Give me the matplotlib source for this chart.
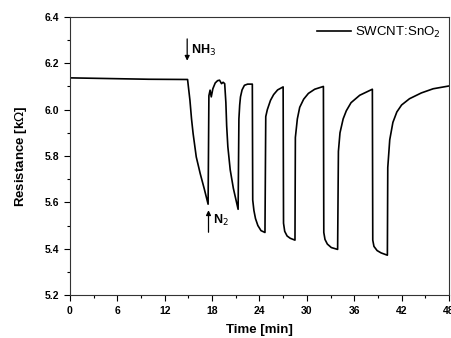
import numpy as np
import matplotlib
matplotlib.use('Agg')
from matplotlib import pyplot as plt
from matplotlib.ticker import MultipleLocator

# time [min] and resistance [kOhm]
time = [0.0, 5.0, 10.0, 14.9,
        15.0, 15.2, 15.4, 15.6, 16.0, 16.5, 17.0, 17.5,
        17.6, 17.75, 17.9, 18.1, 18.4, 18.7, 18.95, 19.2, 19.4, 19.6,
        19.75, 19.85, 20.0, 20.3, 20.7, 21.0, 21.3,
        21.4, 21.5, 21.6, 21.8, 22.1, 22.5, 23.1,
        23.15, 23.3, 23.5, 23.8, 24.2, 24.7,
        24.8, 25.0, 25.4, 25.8, 26.3, 27.0,
        27.05, 27.2, 27.5, 27.9, 28.5,
        28.55, 28.8, 29.1, 29.6, 30.2, 31.0, 32.1,
        32.15, 32.3, 32.6, 33.1, 33.9,
        34.0, 34.2, 34.6, 35.0, 35.6, 36.7, 38.3,
        38.35, 38.5, 38.9, 39.4, 40.2,
        40.25, 40.5, 40.9, 41.4, 42.0, 43.0, 44.5, 46.0, 48.0]
resistance = [6.137, 6.134, 6.131, 6.130,
              6.10, 6.04, 5.96, 5.897, 5.796, 5.724, 5.66, 5.592,
              6.06, 6.084, 6.055, 6.09, 6.115, 6.125, 6.127, 6.112, 6.118, 6.112,
              6.03, 5.93, 5.84, 5.74, 5.66, 5.615, 5.57,
              5.96, 6.02, 6.055, 6.085, 6.105, 6.11, 6.11,
              5.61, 5.565, 5.53, 5.50, 5.478, 5.47,
              5.97, 6.0, 6.04, 6.065, 6.085, 6.098,
              5.51, 5.475, 5.455, 5.445, 5.437,
              5.88, 5.96, 6.01, 6.045, 6.07, 6.088, 6.10,
              5.47, 5.44, 5.42, 5.405, 5.397,
              5.82, 5.90, 5.96, 5.995, 6.03, 6.062, 6.088,
              5.437, 5.41, 5.392, 5.382, 5.372,
              5.75, 5.87, 5.945, 5.99, 6.02, 6.047, 6.072, 6.09, 6.102]

plt.rcParams['font.family'] = ['Liberation Sans', 'DejaVu Sans']

fig = plt.figure(figsize=(4.51, 3.38), dpi=100)
ax = fig.add_axes([0.155, 0.127, 0.8405, 0.823])

ax.plot(time, resistance, color='black', lw=1.2, label='SWCNT:SnO$_2$')

ax.set_xlim(0, 48)
ax.set_ylim(5.2, 6.4)
ax.xaxis.set_major_locator(MultipleLocator(6))
ax.xaxis.set_minor_locator(MultipleLocator(3))
ax.yaxis.set_major_locator(MultipleLocator(0.2))
ax.yaxis.set_minor_locator(MultipleLocator(0.1))
ax.tick_params(which='both', direction='out', width=0.8, labelsize=7.5)
ax.tick_params(which='major', length=4.3)
ax.tick_params(which='minor', length=2)
ax.yaxis.set_major_formatter(matplotlib.ticker.FormatStrFormatter('%.1f'))
for lab in ax.get_xticklabels() + ax.get_yticklabels():
    lab.set_fontweight('bold')
for s in ax.spines.values():
    s.set_linewidth(0.8)
    s.set_color('#333333')

ax.set_xlabel('Time [min]', fontsize=9.5, fontweight='bold', labelpad=6)
ax.set_ylabel('Resistance [k$\\Omega$]', fontsize=9.5, fontweight='bold', labelpad=11)

ax.annotate('', xy=(14.85, 6.199), xytext=(14.85, 6.317),
            arrowprops=dict(arrowstyle='-|>', color='black', lw=0.9, mutation_scale=7))
ax.text(15.3, 6.256, 'NH$_3$', fontsize=9, fontweight='bold', va='center')
ax.annotate('', xy=(17.55, 5.578), xytext=(17.55, 5.459),
            arrowprops=dict(arrowstyle='-|>', color='black', lw=0.9, mutation_scale=7))
ax.text(18.1, 5.523, 'N$_2$', fontsize=9, fontweight='bold', va='center')

ax.legend(loc='upper right', frameon=False, fontsize=9.5, handlelength=2.6,
          handletextpad=0.3, borderaxespad=0.2)

fig.savefig('out.png', dpi=100)
